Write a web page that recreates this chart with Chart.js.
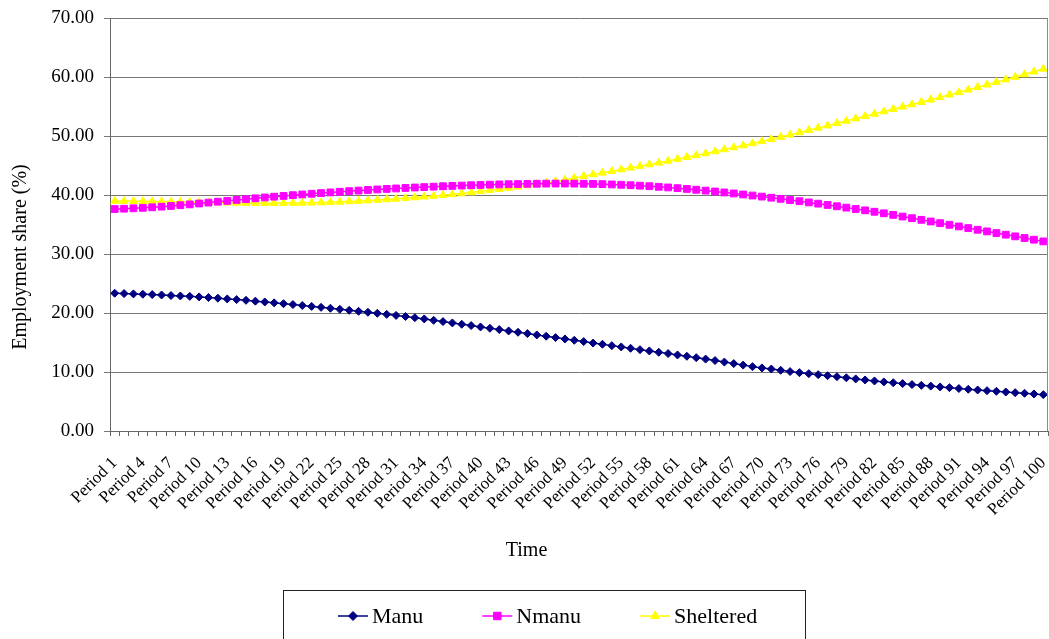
<!DOCTYPE html>
<html lang="en">
<head>
    <meta charset="UTF-8">
    <title>Employment share</title>
    <script src="https://cdn.jsdelivr.net/npm/chart.js"></script>
    <style>
        html, body {
            margin: 0;
            padding: 0;
            background: #fff;
        }
        #chart {
            display: block;
        }
    </style>
</head>
<body>
    <canvas id="chart" width="1049" height="639"></canvas>

    <script>
        // values
        const periods = [];
        for (let i = 1; i <= 100; i++) periods.push('Period ' + i);

        const manu = [
            23.35, 23.29, 23.24, 23.18, 23.12, 23.05, 22.96, 22.89, 22.82, 22.73,
            22.62, 22.51, 22.39, 22.27, 22.15, 22.01, 21.87, 21.72, 21.58, 21.43,
            21.27, 21.12, 20.96, 20.80, 20.63, 20.46, 20.29, 20.12, 19.95, 19.77,
            19.59, 19.41, 19.21, 19.00, 18.76, 18.54, 18.32, 18.09, 17.87, 17.64,
            17.41, 17.19, 16.96, 16.73, 16.51, 16.28, 16.06, 15.83, 15.60, 15.38,
            15.15, 14.90, 14.70, 14.47, 14.25, 14.02, 13.79, 13.57, 13.34, 13.12,
            12.89, 12.66, 12.43, 12.19, 11.94, 11.68, 11.42, 11.17, 10.91, 10.69,
            10.50, 10.29, 10.07, 9.89, 9.72, 9.55, 9.38, 9.21, 9.02, 8.83,
            8.65, 8.48, 8.32, 8.18, 8.03, 7.87, 7.74, 7.61, 7.47, 7.35,
            7.20, 7.07, 6.95, 6.84, 6.73, 6.61, 6.50, 6.39, 6.28, 6.16
        ];

        const nmanu = [
            37.62, 37.68, 37.75, 37.83, 37.92, 38.02, 38.14, 38.27, 38.41, 38.56,
            38.71, 38.86, 39.01, 39.16, 39.30, 39.44, 39.58, 39.71, 39.84, 39.97,
            40.09, 40.21, 40.33, 40.44, 40.55, 40.65, 40.75, 40.85, 40.94, 41.03,
            41.11, 41.19, 41.27, 41.34, 41.41, 41.48, 41.54, 41.60, 41.65, 41.70,
            41.75, 41.79, 41.83, 41.86, 41.89, 41.91, 41.93, 41.94, 41.94, 41.93,
            41.91, 41.88, 41.84, 41.79, 41.73, 41.66, 41.58, 41.49, 41.39, 41.28,
            41.16, 41.03, 40.89, 40.74, 40.59, 40.43, 40.26, 40.09, 39.91, 39.73,
            39.54, 39.35, 39.15, 38.95, 38.74, 38.53, 38.31, 38.09, 37.86, 37.63,
            37.40, 37.16, 36.90, 36.63, 36.35, 36.07, 35.79, 35.51, 35.23, 34.95,
            34.67, 34.39, 34.11, 33.83, 33.55, 33.27, 32.99, 32.71, 32.42, 32.13
        ];

        const sheltered = [
            38.98, 38.97, 38.95, 38.93, 38.91, 38.89, 38.86, 38.83, 38.80, 38.77,
            38.74, 38.71, 38.68, 38.66, 38.64, 38.63, 38.62, 38.62, 38.63, 38.64,
            38.66, 38.69, 38.73, 38.78, 38.84, 38.91, 38.98, 39.06, 39.15, 39.25,
            39.35, 39.46, 39.58, 39.70, 39.83, 39.97, 40.11, 40.26, 40.42, 40.62,
            40.80, 40.99, 41.19, 41.40, 41.61, 41.83, 42.06, 42.30, 42.55, 42.88,
            43.20, 43.48, 43.76, 44.04, 44.32, 44.61, 44.89, 45.17, 45.46, 45.77,
            46.10, 46.42, 46.72, 47.04, 47.38, 47.72, 48.06, 48.39, 48.74, 49.10,
            49.46, 49.84, 50.21, 50.60, 50.99, 51.38, 51.76, 52.16, 52.55, 52.95,
            53.34, 53.75, 54.15, 54.55, 54.95, 55.35, 55.75, 56.15, 56.57, 56.99,
            57.40, 57.83, 58.27, 58.69, 59.13, 59.56, 60.00, 60.45, 60.90, 61.38
        ];

        const xTitle = 'Time';
        const yTitle = 'Employment share (%)';
        const serif = '"Liberation Serif", "Times New Roman", serif';

        // axis titles, right border of the plot and the boxed legend, Excel style
        const decor = {
            id: 'decor',
            afterDraw(chart) {
                const ctx = chart.ctx;
                const area = chart.chartArea;
                ctx.save();

                ctx.strokeStyle = '#8a8a8a';
                ctx.lineWidth = 1;
                ctx.beginPath();
                ctx.moveTo(area.right - 0.5, area.top);
                ctx.lineTo(area.right - 0.5, area.bottom);
                ctx.stroke();

                ctx.fillStyle = '#000';
                ctx.font = '20px ' + serif;
                ctx.textAlign = 'center';
                ctx.textBaseline = 'middle';
                ctx.fillText(xTitle, chart.width / 2 + 2, 551);

                ctx.save();
                ctx.translate(21, 257);
                ctx.rotate(-Math.PI / 2);
                ctx.fillText(yTitle, 0, 0);
                ctx.restore();

                // legend box
                ctx.strokeStyle = '#222';
                ctx.lineWidth = 1;
                ctx.strokeRect(283.5, 590.5, 522, 60);

                let x = 338;
                const y = 616;
                ctx.font = '22px ' + serif;
                ctx.textAlign = 'left';
                chart.data.datasets.forEach(ds => {
                    ctx.strokeStyle = ds.borderColor;
                    ctx.fillStyle = ds.borderColor;
                    ctx.lineWidth = 1.5;
                    ctx.beginPath();
                    ctx.moveTo(x, y);
                    ctx.lineTo(x + 30, y);
                    ctx.stroke();
                    ctx.lineWidth = 1;
                    Chart.helpers.drawPoint(ctx, {
                        pointStyle: ds.pointStyle,
                        radius: ds.pointRadius + 0.5,
                        rotation: 0,
                        borderWidth: 1
                    }, x + 15, y);
                    ctx.fillStyle = '#000';
                    ctx.fillText(ds.label, x + 34, y + 1);
                    x += 34 + ctx.measureText(ds.label).width + 59;
                });
                ctx.restore();
            }
        };

        function series(label, data, color, style, radius) {
            return {
                label: label,
                data: data,
                borderColor: color,
                backgroundColor: color,
                pointBackgroundColor: color,
                pointBorderColor: color,
                pointStyle: style,
                pointRadius: radius,
                pointBorderWidth: 1,
                borderWidth: 1.5,
                tension: 0
            };
        }

        new Chart(document.getElementById('chart'), {
            type: 'line',
            data: {
                labels: periods,
                datasets: [
                    series('Manu', manu, '#000080', 'rectRot', 4),
                    series('Nmanu', nmanu, '#ff00ff', 'rect', 4.8),
                    series('Sheltered', sheltered, '#ffff00', 'triangle', 4.6)
                ]
            },
            options: {
                responsive: false,
                animation: false,
                layout: {
                    autoPadding: false,
                    padding: { top: 18, right: 1, left: 0, bottom: 0 }
                },
                plugins: {
                    legend: { display: false },
                    tooltip: { enabled: false }
                },
                scales: {
                    x: {
                        offset: true,
                        grid: {
                            offset: true,
                            drawOnChartArea: false,
                            tickLength: 5,
                            color: '#666'
                        },
                        border: { color: '#666' },
                        ticks: {
                            autoSkip: false,
                            maxRotation: 45,
                            minRotation: 45,
                            padding: 17,
                            color: '#000',
                            font: { family: serif, size: 17 },
                            callback: (v, i) => (i % 3 === 0 ? periods[i] : '')
                        },
                        afterFit: s => {
                            s.height = 208;
                            s.paddingRight = 0;
                            s.paddingLeft = 0;
                        }
                    },
                    y: {
                        min: 0,
                        max: 70,
                        grid: { color: '#777', tickLength: 6 },
                        border: { color: '#666' },
                        ticks: {
                            stepSize: 10,
                            padding: 10,
                            color: '#000',
                            font: { family: serif, size: 19 },
                            callback: v => v.toFixed(2)
                        },
                        afterFit: s => {
                            s.width = 110;
                            s.paddingTop = 0;
                            s.paddingBottom = 0;
                        }
                    }
                }
            },
            plugins: [decor]
        });
    </script>
</body>
</html>
